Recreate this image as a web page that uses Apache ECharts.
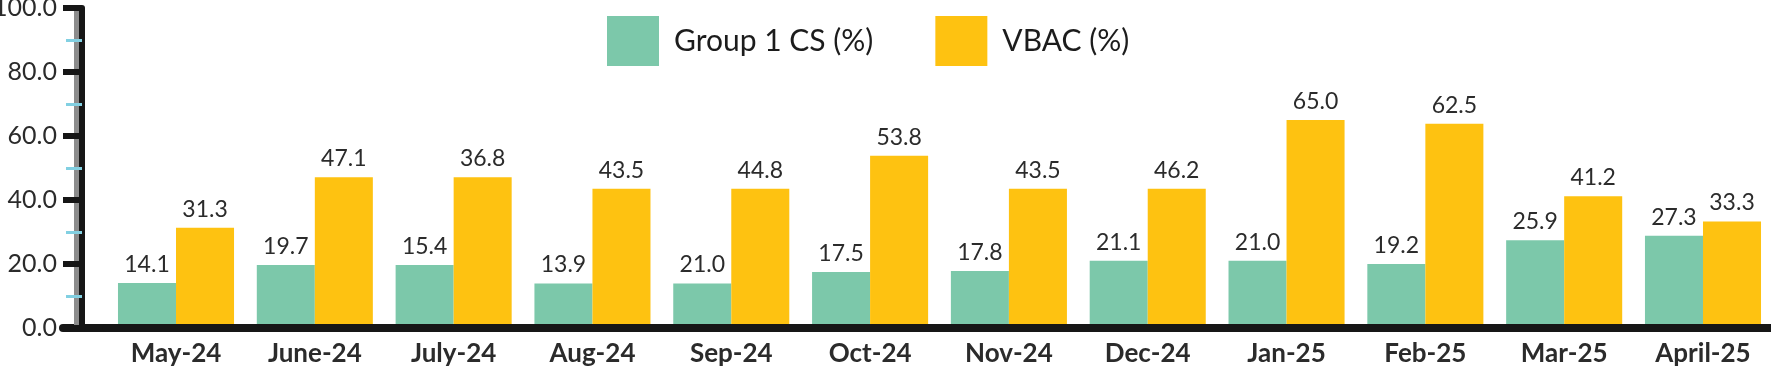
<!DOCTYPE html>
<html>
<head>
<meta charset="utf-8">
<script src="https://cdn.jsdelivr.net/npm/echarts@6/dist/echarts.min.js"></script>
<style>html,body{margin:0;padding:0;background:#fff}#c{width:1771px;height:371px}</style>
</head>
<body>
<div id="c"></div>
<script>
const categories = ['May-24','June-24','July-24','Aug-24','Sep-24','Oct-24','Nov-24','Dec-24','Jan-25','Feb-25','Mar-25','April-25'];
// bar heights as drawn
const groupCS = [14.1, 19.7, 19.7, 13.9, 13.9, 17.5, 17.8, 21.0, 21.0, 20.0, 27.4, 28.8];
const vbac = [31.3, 47.1, 47.1, 43.5, 43.5, 53.8, 43.5, 43.5, 65.0, 63.8, 41.2, 33.3];
// printed labels
const groupCSLabels = ['14.1','19.7','15.4','13.9','21.0','17.5','17.8','21.1','21.0','19.2','25.9','27.3'];
const vbacLabels = ['31.3','47.1','36.8','43.5','44.8','53.8','43.5','46.2','65.0','62.5','41.2','33.3'];
const seriesNames = ['Group 1 CS (%)', 'VBAC (%)'];

const FONT = 'Lato, "Open Sans", sans-serif';
const chart = echarts.init(document.getElementById('c'));
chart.setOption({
  animation: false,
  textStyle: { fontFamily: FONT },
  legend: {
    left: 602, top: 11,
    itemWidth: 52, itemHeight: 50, itemGap: 62,
    icon: 'rect',
    textStyle: { fontSize: 30, color: '#1c1c1c', fontFamily: FONT, padding: [0, 0, 0, 10] },
    data: seriesNames
  },
  grid: [
    { left: 106.6, right: -1.4, top: 8, bottom: 43, outerBoundsMode: 'none', containLabel: false },
    { left: 63, right: 0, top: 8, bottom: 43, outerBoundsMode: 'none', containLabel: false }
  ],
  xAxis: [
    {
      type: 'category', data: categories, gridIndex: 0, z: 5,
      axisLine: { lineStyle: { color: '#161616', width: 8 } },
      axisTick: { show: false },
      axisLabel: { fontSize: 26, fontWeight: 'bold', color: '#2b2b2b', margin: 13, fontFamily: FONT }
    },
    {
      type: 'value', gridIndex: 1, min: 0, max: 1, position: 'bottom', z: 4,
      axisLine: { onZero: false, lineStyle: { color: '#161616', width: 8 } },
      axisTick: { show: false }, axisLabel: { show: false }, splitLine: { show: false }
    }
  ],
  yAxis: [
    {
      type: 'value', gridIndex: 0, min: 0, max: 100, interval: 20, offset: 24.6, z: 6,
      axisLine: { show: true, lineStyle: { color: '#161616', width: 6, shadowColor: '#8c8c8c', shadowOffsetX: -5, shadowBlur: 0 } },
      axisTick: { show: true, length: 19, lineStyle: { color: '#161616', width: 6 } },
      minorTick: { show: true, splitNumber: 2, length: 16, lineStyle: { color: '#82d0e2', width: 3 } },
      axisLabel: { fontSize: 25, color: '#2b2b2b', margin: 25, formatter: v => v.toFixed(1), fontFamily: FONT },
      splitLine: { show: false }
    },
    {
      type: 'value', gridIndex: 1, show: false
    }
  ],
  series: [
    {
      name: seriesNames[0], type: 'bar', data: groupCS,
      barGap: '0%', barCategoryGap: '16.4%',
      itemStyle: { color: '#7cc8aa' },
      label: { show: true, position: 'top', distance: 7, fontSize: 23, color: '#2b2b2b', fontFamily: FONT,
        formatter: p => groupCSLabels[p.dataIndex] }
    },
    {
      name: seriesNames[1], type: 'bar', data: vbac,
      barGap: '0%', barCategoryGap: '16.4%',
      itemStyle: { color: '#fec211' },
      label: { show: true, position: 'top', distance: 7, fontSize: 23, color: '#2b2b2b', fontFamily: FONT,
        formatter: p => vbacLabels[p.dataIndex] }
    }
  ]
});
</script>
</body>
</html>
